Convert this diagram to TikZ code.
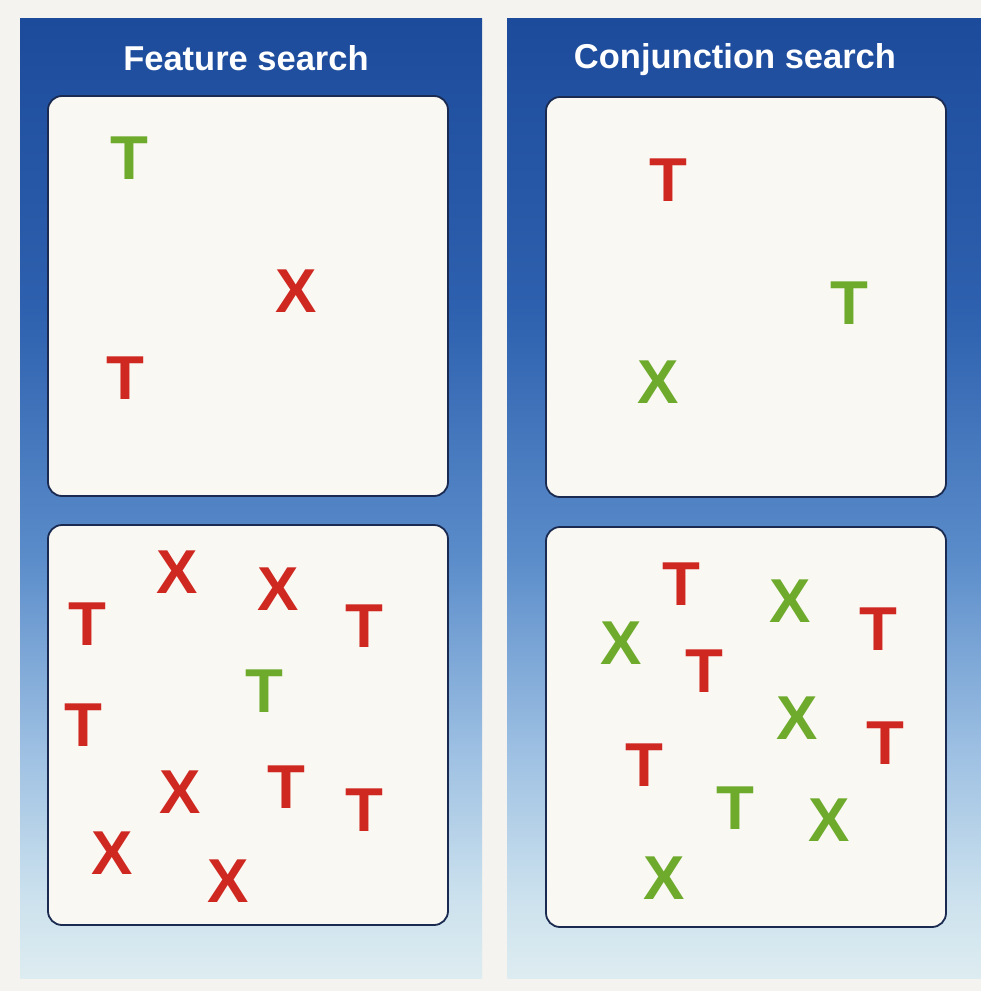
\documentclass[tikz,border=0pt]{standalone}
\usepackage{fontspec}
\setmainfont{Liberation Sans}
\usetikzlibrary{positioning}
\definecolor{paper}{HTML}{F4F3EF}
\definecolor{card}{HTML}{F9F8F3}
\definecolor{cardline}{HTML}{1A2A50}
\definecolor{distr}{HTML}{CF2820}
\definecolor{targ}{HTML}{6EAA2B}
\definecolor{sky0}{HTML}{DDECF0}
\definecolor{sky1}{HTML}{CDE2EE}
\definecolor{sky2}{HTML}{9CBFE2}
\definecolor{sky3}{HTML}{5A8CCA}
\definecolor{sky4}{HTML}{2D60AE}
\definecolor{sky5}{HTML}{1D4B9C}
\pgfdeclareverticalshading{column}{100bp}{color(0bp)=(sky0); color(25bp)=(sky0);
  color(29bp)=(sky1); color(37bp)=(sky2); color(47bp)=(sky3); color(60bp)=(sky4);
  color(75bp)=(sky5); color(100bp)=(sky5)}
\tikzset{
  col/.style={shading=column, draw=none, minimum height=960pt, inner sep=0pt},
  panel/.style={draw=cardline, line width=1.8pt, fill=card, rounded corners=14pt,
    minimum width=400pt, minimum height=400pt, inner sep=0pt},
  heading/.style={text=white, inner sep=0pt, font=\bfseries\fontsize{34.5}{38}\selectfont},
  glyph/.style={inner sep=0pt, font=\bfseries\fontsize{62}{62}\selectfont},
  rd/.style={glyph, text=distr},
  gr/.style={glyph, text=targ},
}

\begin{document}
\begin{tikzpicture}[x=1pt, y=-1pt]
    \fill[paper] (0,0) rectangle (981,991);
    \useasboundingbox (0,0) rectangle (981,991);

    \node[col, minimum width=462pt] (lcol) at (251,498) {};
    \node[col, minimum width=480pt] (rcol) at (747,498) {};

    \node[heading] (lhead) at (246,58) {Feature search};
    \node[heading] (rhead) at (735,60) {Conjunction search};

    \node[panel] (lt) at (248,296) {};
    \node[panel] (lb) at (248,725) {};
    \node[panel] (rt) at (746,297) {};
    \node[panel] (rb) at (746,727) {};

    % feature search, few items
    \node[gr] (f1) at (129,158) {T};
    \node[rd] (f2) at (296,291) {X};
    \node[rd] (f3) at (125,378) {T};

    % feature search, many items
    \node[rd] (g1) at (177,572) {X};
    \node[rd] (g2) at (278,589) {X};
    \node[rd] (g3) at (87,624) {T};
    \node[rd] (g4) at (364,626) {T};
    \node[gr] (g5) at (264,691) {T};
    \node[rd] (g6) at (83,725) {T};
    \node[rd] (g7) at (180,792) {X};
    \node[rd] (g8) at (286,787) {T};
    \node[rd] (g9) at (364,810) {T};
    \node[rd] (g10) at (112,853) {X};
    \node[rd] (g11) at (228,881) {X};

    % conjunction search, few items
    \node[rd] (c1) at (668,180) {T};
    \node[gr] (c2) at (849,303) {T};
    \node[gr] (c3) at (658,382) {X};

    % conjunction search, many items
    \node[rd] (d1) at (681,584) {T};
    \node[gr] (d2) at (790,601) {X};
    \node[rd] (d3) at (878,629) {T};
    \node[gr] (d4) at (621,643) {X};
    \node[rd] (d5) at (704,671) {T};
    \node[gr] (d6) at (797,718) {X};
    \node[rd] (d7) at (885,743) {T};
    \node[rd] (d8) at (644,765) {T};
    \node[gr] (d9) at (735,808) {T};
    \node[gr] (d10) at (829,820) {X};
    \node[gr] (d11) at (664,878) {X};
  \end{tikzpicture}
\end{document}
